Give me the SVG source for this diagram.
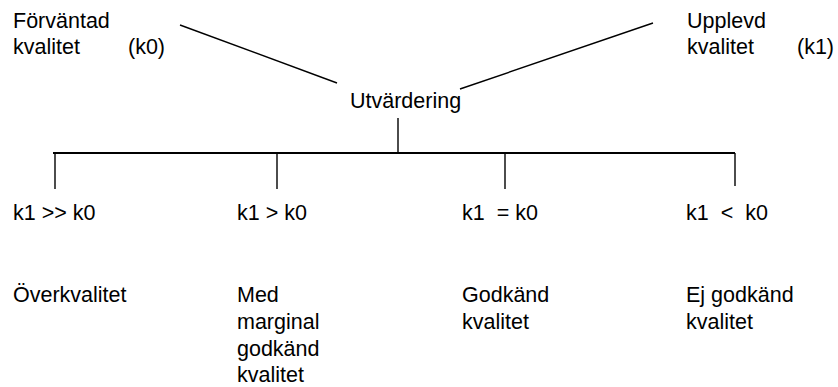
<svg xmlns="http://www.w3.org/2000/svg" width="838" height="387" viewBox="0 0 838 387">
  <style>
    text { font-family: "Liberation Sans", Arial, sans-serif; font-size: 21.5px; fill: #000; }
    .ln { stroke: #000; stroke-width: 1.4; fill: none; }
    .bar { stroke: #000; stroke-width: 2; fill: none; }
  </style>
  <rect width="838" height="387" fill="#fff"/>

  <g id="connectors">
    <line class="ln" x1="180" y1="25" x2="337" y2="83"/>
    <line class="ln" x1="460" y1="89" x2="653" y2="23"/>
    <line class="ln" x1="398" y1="118" x2="398" y2="153"/>
    <line class="bar" x1="53" y1="153" x2="735" y2="153"/>
    <line class="ln" x1="55" y1="153" x2="55" y2="189"/>
    <line class="ln" x1="277" y1="153" x2="277" y2="189"/>
    <line class="ln" x1="505" y1="153" x2="505" y2="189"/>
    <line class="ln" x1="735" y1="153" x2="735" y2="186"/>
  </g>

  <g id="expected">
    <text x="13" y="28">Förväntad</text>
    <text x="13" y="54">kvalitet</text>
    <text x="128" y="54">(k0)</text>
  </g>

  <g id="perceived">
    <text x="687" y="28">Upplevd</text>
    <text x="687" y="54">kvalitet</text>
    <text x="797" y="54">(k1)</text>
  </g>

  <g id="evaluation">
    <text x="350" y="108">Utvärdering</text>
  </g>

  <g id="over">
    <text x="13" y="220">k1 &gt;&gt; k0</text>
    <text x="13" y="302">Överkvalitet</text>
  </g>

  <g id="margin">
    <text x="237" y="220">k1 &gt; k0</text>
    <text x="237" y="302">Med</text>
    <text x="237" y="329">marginal</text>
    <text x="237" y="356">godkänd</text>
    <text x="237" y="382">kvalitet</text>
  </g>

  <g id="approved">
    <text x="462" y="220" xml:space="preserve">k1  = k0</text>
    <text x="462" y="302">Godkänd</text>
    <text x="462" y="329">kvalitet</text>
  </g>

  <g id="rejected">
    <text x="686" y="220" xml:space="preserve">k1  &lt;  k0</text>
    <text x="686" y="302">Ej godkänd</text>
    <text x="686" y="329">kvalitet</text>
  </g>
</svg>
